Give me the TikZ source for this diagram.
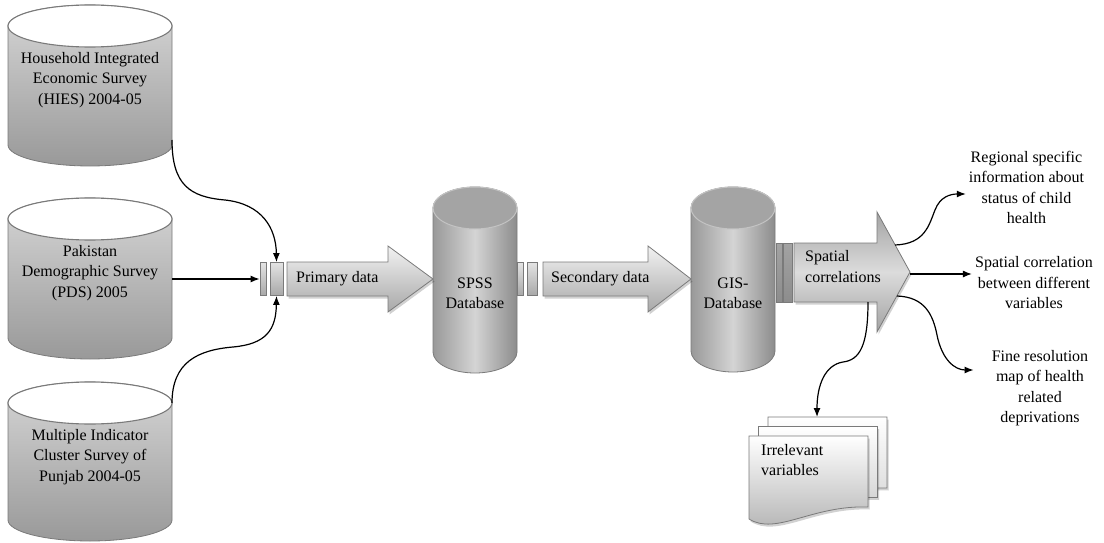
\documentclass[tikz,border=0pt]{standalone}
\usepackage{fontspec}
\setmainfont{Liberation Serif}
\usepackage{tikz}
\usetikzlibrary{arrows.meta}
\usetikzlibrary{calc}
\usetikzlibrary{positioning}
\usetikzlibrary{shadows}
\definecolor{db-edge}{HTML}{7A7A7A}
\definecolor{db-light}{HTML}{D6D6D6}
\definecolor{db-dark}{HTML}{999999}
\definecolor{db-cap}{HTML}{A4A4A4}
\definecolor{db-mid}{HTML}{D4D4D4}
\definecolor{db-side}{HTML}{8C8C8C}
\definecolor{ar-light}{HTML}{F2F2F2}
\definecolor{ar-dark}{HTML}{A8A8A8}
\definecolor{sp-dark}{HTML}{A3A3A3}
\definecolor{sp-mid}{HTML}{DCDCDC}

\begin{document}
\begin{tikzpicture}[x=1pt, y=-1pt,
    every node/.style={font=\fontsize{16}{20.5}\selectfont, inner sep=0pt},
    softshadow/.style={drop shadow={shadow xshift=1.5pt, shadow yshift=-2.5pt, fill=black, opacity=0.18}},
    cylbody/.style={draw=db-edge, line width=0.8pt, top color=db-light, bottom color=db-dark},
    cylcap/.style={draw=db-edge, line width=1.1pt, fill=white},
    dbbody/.style={draw=db-edge, line width=0.8pt, left color=db-dark, right color=db-side, middle color=db-mid},
    dbcap/.style={draw=db-edge!45, line width=1pt, fill=db-cap},
    blockarrow/.style={draw=db-edge, line width=0.8pt, top color=ar-light, bottom color=ar-dark, softshadow},
    spatialarrow/.style={draw=db-edge, line width=0.8pt, top color=sp-dark, bottom color=sp-dark, middle color=sp-mid, softshadow},
    gapbar/.style={draw=db-edge, line width=0.8pt, top color=ar-light!80!ar-dark, bottom color=ar-dark, minimum height=33pt},
    gapdark/.style={draw=db-edge, line width=0.8pt, top color=sp-dark, bottom color=db-side, minimum height=59pt},
    docpage/.style={draw=db-edge, line width=0.8pt, top color=white, softshadow},
    outtext/.style={align=center, inner sep=3pt},
    link/.style={line width=1.2pt, -{Latex[length=9pt,width=7pt]}}]
    % frame
    \useasboundingbox (0,0) rectangle (1104,543);

    % survey cylinders
    \shade[cylbody] (8,26) -- (8,145) arc[start angle=180, end angle=0, x radius=82, y radius=21]
        -- (172,26) arc[start angle=0, end angle=-180, x radius=82, y radius=21] -- cycle;
    \filldraw[cylcap] (8,26) arc[start angle=180, end angle=0, x radius=82, y radius=21]
        arc[start angle=0, end angle=-180, x radius=82, y radius=21] -- cycle;
    \shade[cylbody] (8,219) -- (8,338) arc[start angle=180, end angle=0, x radius=82, y radius=21]
        -- (172,219) arc[start angle=0, end angle=-180, x radius=82, y radius=21] -- cycle;
    \filldraw[cylcap] (8,219) arc[start angle=180, end angle=0, x radius=82, y radius=21]
        arc[start angle=0, end angle=-180, x radius=82, y radius=21] -- cycle;
    \shade[cylbody] (8,403) -- (8,520) arc[start angle=180, end angle=0, x radius=82, y radius=21]
        -- (172,403) arc[start angle=0, end angle=-180, x radius=82, y radius=21] -- cycle;
    \filldraw[cylcap] (8,403) arc[start angle=180, end angle=0, x radius=82, y radius=21]
        arc[start angle=0, end angle=-180, x radius=82, y radius=21] -- cycle;
    \node[align=center] (hies) at (90,80) {Household Integrated\\Economic Survey\\(HIES) 2004-05};
    \node[align=center] (pds) at (90,273) {Pakistan\\Demographic Survey\\(PDS) 2005};
    \node[align=center] (mics) at (90,457) {Multiple Indicator\\Cluster Survey of\\Punjab 2004-05};
    \coordinate (hies-out) at (172,140);
    \coordinate (pds-out) at (172,279);
    \coordinate (mics-out) at (172,403);

    % databases
    \shade[dbbody] (433,208) -- (433,352) arc[start angle=180, end angle=0, x radius=42, y radius=21]
        -- (517,208) arc[start angle=0, end angle=-180, x radius=42, y radius=21] -- cycle;
    \filldraw[dbcap] (433,208) arc[start angle=180, end angle=0, x radius=42, y radius=21]
        arc[start angle=0, end angle=-180, x radius=42, y radius=21] -- cycle;
    \shade[dbbody] (691,208) -- (691,351) arc[start angle=180, end angle=0, x radius=42, y radius=21]
        -- (775,208) arc[start angle=0, end angle=-180, x radius=42, y radius=21] -- cycle;
    \filldraw[dbcap] (691,208) arc[start angle=180, end angle=0, x radius=42, y radius=21]
        arc[start angle=0, end angle=-180, x radius=42, y radius=21] -- cycle;
    \node[align=center] (spss) at (475,293.5) {SPSS\\Database};
    \node[align=center] (gis) at (733,293.5) {GIS-\\Database};

    % block arrows
    \shade[blockarrow] (287,262) -- (388,262) -- (388,246) -- (433,279) -- (388,312) -- (388,296) -- (287,296) -- cycle;
    \shade[blockarrow] (543,262) -- (648,262) -- (648,246) -- (691,279) -- (648,312) -- (648,296) -- (543,296) -- cycle;
    \shade[spatialarrow] (794,243) -- (877,243) -- (877,212) -- (910,272) -- (877,332) -- (877,302) -- (794,302) -- cycle;
    \node[anchor=west] (primary) at (296,278.5) {Primary data};
    \node[anchor=west] (secondary) at (551,278.5) {Secondary data};
    \node[anchor=west, align=left] (spatial) at (805,266.5) {Spatial\\correlations};
    \coordinate (sp-up) at (895,245);
    \coordinate (sp-tip) at (910,274);
    \coordinate (sp-low) at (897,296);
    \coordinate (sp-foot) at (868,302);

    % gaps
    \node[gapbar, minimum width=6pt] (inA) at (263,279) {};
    \node[gapbar, minimum width=13pt] (inB) at (276.5,279) {};
    \node[gapbar, minimum width=6pt] (midA) at (520,279) {};
    \node[gapbar, minimum width=10pt] (midB) at (532,279) {};
    \node[gapdark, minimum width=6pt] (outA) at (779,272.5) {};
    \node[gapdark, minimum width=9pt] (outB) at (787.5,272.5) {};

    % irrelevant variables
    \foreach \s/\c in {19/35,9.5/45,0/62} {
        \shade[docpage, bottom color=gray!\c, shift={(\s,-\s)}] (749,436) -- (868,436) -- (868,507)
            .. controls (812,505) and (776,536) .. (749,519) -- cycle;
    }
    \node[anchor=west, align=left] (irrel) at (761,460) {Irrelevant\\variables};
    \coordinate (doc-top) at (817,417);

    % results
    \node[outtext] (regional) at (1026.5,187.5) {Regional specific\\information about\\status of child\\health};
    \node[outtext] (corr) at (1034,283) {Spatial correlation\\between different\\variables};
    \node[outtext] (fine) at (1040,388) {Fine resolution\\map of health\\related\\deprivations};

    % connectors
    \draw[link] (hies-out) .. controls (172,185) and (190,197) .. (225,200)
        .. controls (262,204) and (276,228) .. (inB.north);
    \draw[link] (pds-out) -- (inA.west);
    \draw[link] (mics-out) .. controls (172,362) and (198,350) .. (233,347)
        .. controls (266,344) and (276,330) .. (inB.south);
    \draw[link] (sp-up) .. controls (925,244) and (929,225) .. (935,210)
        .. controls (940,197) and (950,194) .. ([yshift=-6.5pt]regional.west);
    \draw[link] (sp-tip) -- ([yshift=9pt]corr.west);
    \draw[link] (sp-low) .. controls (925,297) and (933,315) .. (937,335)
        .. controls (942,360) and (955,370) .. ([xshift=-15pt,yshift=18pt]fine.west);
    \draw[link] (sp-foot) .. controls (868,345) and (860,360) .. (843,362)
        .. controls (825,365) and (817,385) .. (doc-top);

\end{tikzpicture}
\end{document}
